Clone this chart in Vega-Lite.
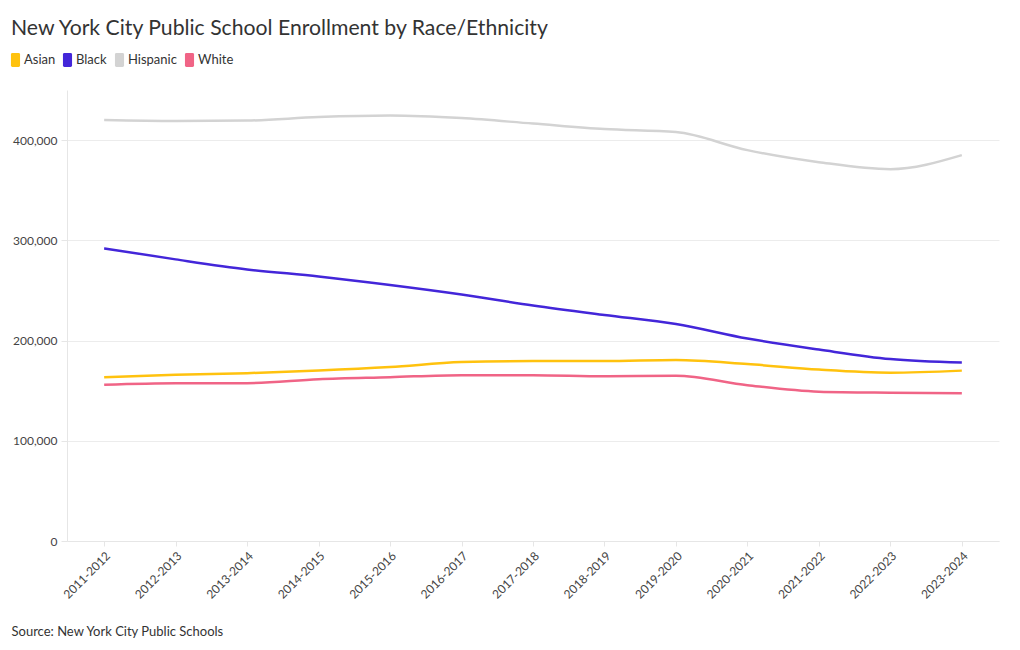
{
  "$schema": "https://vega.github.io/schema/vega-lite/v6.json",
  "width": 932,
  "height": 451,
  "autosize": {"type": "none"},
  "padding": {"left": 67, "top": 90, "right": 21, "bottom": 109},
  "background": "white",
  "title": {
    "text": "New York City Public School Enrollment by Race/Ethnicity",
    "anchor": "start",
    "frame": "group",
    "dx": -56,
    "offset": 14,
    "font": "Lato",
    "fontSize": 21.2,
    "fontWeight": "normal",
    "color": "#333333"
  },
  "data": {
    "values": [
      {"year": "2011-2012", "group": "Asian", "value": 163500},
      {"year": "2012-2013", "group": "Asian", "value": 166000},
      {"year": "2013-2014", "group": "Asian", "value": 167500},
      {"year": "2014-2015", "group": "Asian", "value": 170000},
      {"year": "2015-2016", "group": "Asian", "value": 173500},
      {"year": "2016-2017", "group": "Asian", "value": 178500},
      {"year": "2017-2018", "group": "Asian", "value": 179500},
      {"year": "2018-2019", "group": "Asian", "value": 179500},
      {"year": "2019-2020", "group": "Asian", "value": 180500},
      {"year": "2020-2021", "group": "Asian", "value": 176500},
      {"year": "2021-2022", "group": "Asian", "value": 171000},
      {"year": "2022-2023", "group": "Asian", "value": 168000},
      {"year": "2023-2024", "group": "Asian", "value": 170000},
      {"year": "2011-2012", "group": "Black", "value": 292000},
      {"year": "2012-2013", "group": "Black", "value": 281000},
      {"year": "2013-2014", "group": "Black", "value": 271000},
      {"year": "2014-2015", "group": "Black", "value": 264000},
      {"year": "2015-2016", "group": "Black", "value": 255500},
      {"year": "2016-2017", "group": "Black", "value": 246000},
      {"year": "2017-2018", "group": "Black", "value": 235000},
      {"year": "2018-2019", "group": "Black", "value": 225500},
      {"year": "2019-2020", "group": "Black", "value": 216500},
      {"year": "2020-2021", "group": "Black", "value": 202000},
      {"year": "2021-2022", "group": "Black", "value": 191000},
      {"year": "2022-2023", "group": "Black", "value": 181500},
      {"year": "2023-2024", "group": "Black", "value": 178000},
      {"year": "2011-2012", "group": "Hispanic", "value": 420000},
      {"year": "2012-2013", "group": "Hispanic", "value": 419000},
      {"year": "2013-2014", "group": "Hispanic", "value": 419500},
      {"year": "2014-2015", "group": "Hispanic", "value": 423000},
      {"year": "2015-2016", "group": "Hispanic", "value": 424500},
      {"year": "2016-2017", "group": "Hispanic", "value": 422000},
      {"year": "2017-2018", "group": "Hispanic", "value": 416500},
      {"year": "2018-2019", "group": "Hispanic", "value": 411000},
      {"year": "2019-2020", "group": "Hispanic", "value": 408000},
      {"year": "2020-2021", "group": "Hispanic", "value": 390000},
      {"year": "2021-2022", "group": "Hispanic", "value": 378000},
      {"year": "2022-2023", "group": "Hispanic", "value": 371000},
      {"year": "2023-2024", "group": "Hispanic", "value": 385000},
      {"year": "2011-2012", "group": "White", "value": 156000},
      {"year": "2012-2013", "group": "White", "value": 157500},
      {"year": "2013-2014", "group": "White", "value": 157500},
      {"year": "2014-2015", "group": "White", "value": 161500},
      {"year": "2015-2016", "group": "White", "value": 163500},
      {"year": "2016-2017", "group": "White", "value": 165500},
      {"year": "2017-2018", "group": "White", "value": 165500},
      {"year": "2018-2019", "group": "White", "value": 164500},
      {"year": "2019-2020", "group": "White", "value": 165000},
      {"year": "2020-2021", "group": "White", "value": 155500},
      {"year": "2021-2022", "group": "White", "value": 149000},
      {"year": "2022-2023", "group": "White", "value": 148000},
      {"year": "2023-2024", "group": "White", "value": 147500}
    ]
  },
  "mark": {"type": "line", "interpolate": "monotone", "strokeWidth": 2.5},
  "encoding": {
    "x": {
      "field": "year",
      "type": "ordinal",
      "scale": {"type": "point", "padding": 0.52},
      "axis": {
        "title": "Source: New York City Public Schools",
        "titleAnchor": "start",
        "titleX": -56,
        "titleY": 90,
        "titleBaseline": "middle",
        "titleFont": "Lato",
        "titleFontSize": 13,
        "titleFontWeight": "normal",
        "titleColor": "#333333",
        "labelAngle": -45,
        "labelFont": "Lato",
        "labelFontSize": 12,
        "labelColor": "#444444",
        "labelPadding": 4,
        "domainColor": "#e6e6e6",
        "tickColor": "#e6e6e6",
        "tickSize": 5,
        "grid": false
      }
    },
    "y": {
      "field": "value",
      "type": "quantitative",
      "scale": {"domain": [0, 450000], "nice": false},
      "axis": {
        "title": null,
        "values": [0, 100000, 200000, 300000, 400000],
        "format": ",d",
        "labelFont": "Lato",
        "labelFontSize": 12,
        "labelColor": "#444444",
        "labelPadding": 4,
        "domainColor": "#e6e6e6",
        "tickColor": "#e6e6e6",
        "tickSize": 6,
        "gridColor": "#ececec"
      }
    },
    "color": {
      "field": "group",
      "type": "nominal",
      "scale": {
        "domain": ["Asian", "Black", "Hispanic", "White"],
        "range": ["#FFC20E", "#4326D9", "#D3D3D3", "#F06486"]
      },
      "legend": {
        "title": null,
        "orient": "none",
        "legendX": -58.5,
        "legendY": -37,
        "direction": "horizontal",
        "symbolType": "M-0.45,-1 L0.45,-1 Q0.65,-1 0.65,-0.8 L0.65,0.8 Q0.65,1 0.45,1 L-0.45,1 Q-0.65,1 -0.65,0.8 L-0.65,-0.8 Q-0.65,-1 -0.45,-1 Z",
        "symbolSize": 196,
        "symbolStrokeWidth": 0,
        "symbolOpacity": 1,
        "labelFont": "Lato",
        "labelFontSize": 13,
        "labelColor": "#333333",
        "labelOffset": 1.5,
        "columnPadding": 5,
        "encode": {
          "symbols": {
            "update": {
              "fill": {"scale": "color", "field": "value"},
              "stroke": {"value": "transparent"}
            }
          }
        }
      }
    }
  },
  "config": {"view": {"stroke": null}}
}
